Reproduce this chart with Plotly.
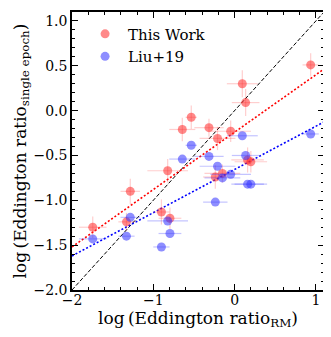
import numpy as np
import plotly.graph_objects as go

# log Eddington ratio from RM (shared x for both samples)
x_rm = [0.936, 0.095, 0.136, -0.533, -0.643, -0.315, -0.21, -0.048, 0.16, 0.20,
        -0.823, -1.283, -1.745, -1.33, -0.90, -0.795, -0.237, -0.15]
x_err = [0.10, 0.19, 0.17, 0.07, 0.16, 0.18, 0.22, 0.25, 0.20, 0.20,
         0.25, 0.12, 0.17, 0.10, 0.10, 0.14, 0.15, 0.22]

# this work, single epoch
y_this = [0.51, 0.30, 0.09, -0.074, -0.21, -0.19, -0.31, -0.23, -0.55, -0.57,
          -0.67, -0.90, -1.30, -1.24, -1.13, -1.20, -0.74, -0.70]
y_this_err = [0.13, 0.15, 0.15, 0.13, 0.13, 0.10, 0.13, 0.12, 0.14, 0.12,
              0.13, 0.14, 0.12, 0.10, 0.14, 0.12, 0.13, 0.10]

# Liu+19
y_liu = [-0.26, -0.28, -0.50, -0.386, -0.54, -0.51, -0.62, -0.71, -0.82, -0.82,
         -1.23, -1.19, -1.43, -1.40, -1.52, -1.37, -1.02, -0.75]

# linear fits (slope, intercept)
fit_this = (0.64, -0.24)
fit_liu = (0.482, -0.656)

xr = [-2.0, 1.1]
xl = np.array(xr)

serif = "DejaVu Serif"

fig = go.Figure()

fig.add_trace(go.Scatter(x=xl, y=xl, mode="lines", showlegend=False,
                         line=dict(color="black", width=1, dash="4px,2px")))
fig.add_trace(go.Scatter(x=xl, y=fit_this[0] * xl + fit_this[1], mode="lines",
                         showlegend=False,
                         line=dict(color="red", width=1.6, dash="2px,2px")))
fig.add_trace(go.Scatter(x=xl, y=fit_liu[0] * xl + fit_liu[1], mode="lines",
                         showlegend=False,
                         line=dict(color="blue", width=1.6, dash="2px,2px")))

fig.add_trace(go.Scatter(
    x=x_rm, y=y_this, mode="markers", name="This Work",
    marker=dict(color="rgba(255,40,40,0.55)", size=9),
    error_x=dict(array=x_err, color="rgba(255,60,60,0.25)", thickness=1.2, width=0),
    error_y=dict(array=y_this_err, color="rgba(255,60,60,0.25)", thickness=1.2, width=0),
))
fig.add_trace(go.Scatter(
    x=x_rm, y=y_liu, mode="markers", name="Liu+19",
    marker=dict(color="rgba(50,50,255,0.55)", size=9),
    error_x=dict(array=x_err, color="rgba(60,60,255,0.3)", thickness=1.2, width=0),
))

axis_common = dict(
    showline=True, linecolor="black", linewidth=1.5, mirror="ticks",
    ticks="inside", ticklen=6, tickwidth=1, tickcolor="black",
    showgrid=False, zeroline=False, automargin=False,
    tickfont=dict(family=serif, size=14, color="black"),
    minor=dict(ticks="inside", ticklen=3, tickcolor="black", tickwidth=1),
)

fig.update_xaxes(range=xr, tickvals=[-2, -1, 0, 1], ticktext=["\u22122", "\u22121", "0", "1"],
                 minor_dtick=0.2, ticklabelstandoff=-4,
                 title=dict(text="log\u2009(Eddington ratio<sub>RM</sub>)",
                            font=dict(family=serif, size=17, color="black"), standoff=2),
                 **axis_common)
fig.update_yaxes(range=[-2.0, 1.1], tickvals=[-2, -1.5, -1, -0.5, 0, 0.5, 1.0],
                 ticktext=["\u22122.0", "\u22121.5", "\u22121.0", "\u22120.5", "0.0", "0.5", "1.0"],
                 minor_dtick=0.1,
                 title=dict(text="log\u2009(Eddington ratio<sub>single epoch</sub>)",
                            font=dict(family=serif, size=17, color="black"), standoff=3),
                 **axis_common)

fig.update_layout(
    width=323, height=329,
    margin=dict(l=64, r=7, t=4, b=47),
    paper_bgcolor="white", plot_bgcolor="white",
    legend=dict(x=0.04, y=0.98, xanchor="left", yanchor="top",
                bgcolor="rgba(0,0,0,0)", tracegroupgap=2, itemwidth=36,
                font=dict(family=serif, size=15, color="black")),
)

fig.write_html("out.html")
